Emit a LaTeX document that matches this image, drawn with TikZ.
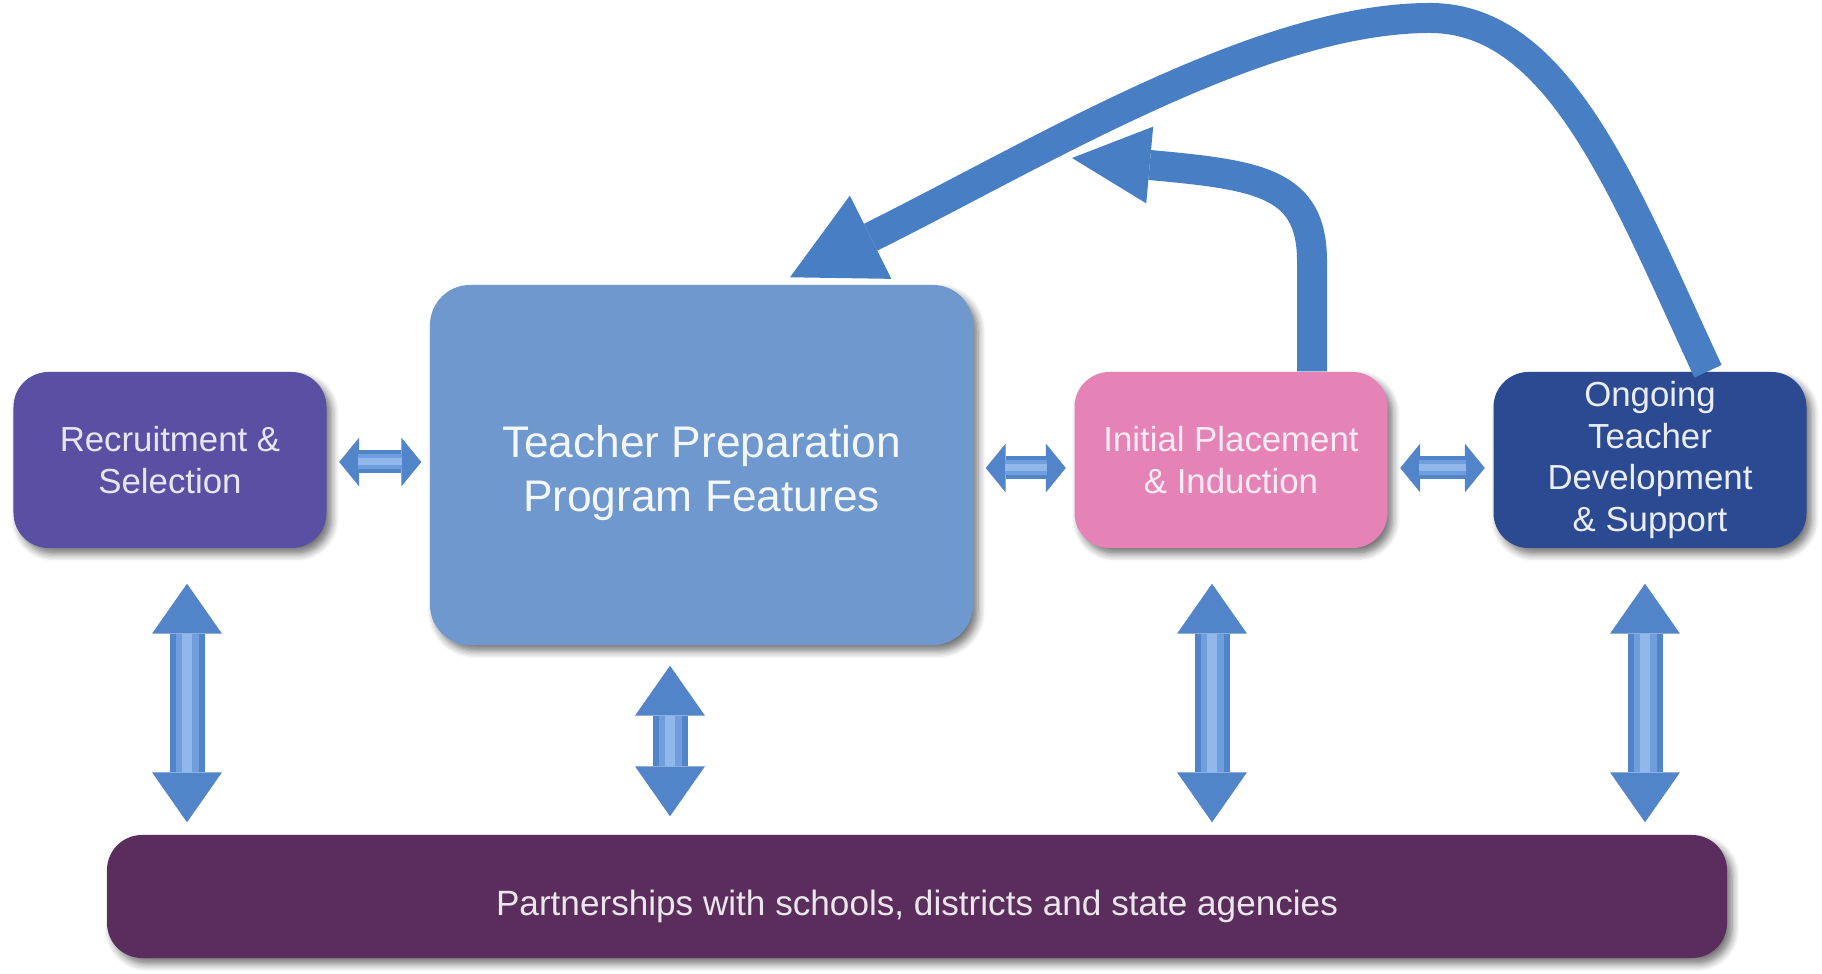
\documentclass[tikz,border=0pt]{standalone}
\usepackage{fontspec}
\setmainfont{Liberation Sans}
\usetikzlibrary{arrows.meta,calc,shadows.blur}

\definecolor{recfill}{RGB}{89,80,164}
\definecolor{prepfill}{RGB}{110,152,206}
\definecolor{initfill}{RGB}{230,131,182}
\definecolor{ongfill}{RGB}{43,74,146}
\definecolor{partfill}{RGB}{90,45,92}
\definecolor{loopblue}{RGB}{72,126,196}
\definecolor{linkblue}{RGB}{82,132,202}
\definecolor{linkmid}{RGB}{112,158,221}
\definecolor{linklight}{RGB}{145,184,234}

\begin{document}
\begin{tikzpicture}[
        box/.style={rectangle,rounded corners=0.35cm,inner sep=0pt,align=center,
            minimum width=3.13cm,minimum height=1.76cm,
            blur shadow={shadow xshift=0.05cm,shadow yshift=-0.06cm,shadow blur steps=6,shadow opacity=55}},
        small/.style={font=\fontsize{9.9}{11.9}\selectfont},
        hlink/.style={draw=linkblue,line width=0.23cm,
            {Triangle[length=0.2cm,width=0.49cm,line width=0pt]}-{Triangle[length=0.2cm,width=0.49cm,line width=0pt]},
            shorten <=0.12cm,shorten >=0.08cm,
            postaction={draw=linkmid,line width=0.15cm,-,shorten <=0.31cm,shorten >=0.27cm},
            postaction={draw=linklight,line width=0.07cm,-,shorten <=0.31cm,shorten >=0.27cm}},
        vlink/.style 2 args={draw=linkblue,line width=0.35cm,
            {Triangle[length=0.5cm,width=0.7cm,line width=0pt]}-{Triangle[length=0.5cm,width=0.7cm,line width=0pt]},
            shorten <=#1,shorten >=#2,
            postaction={draw=linkmid,line width=0.23cm,-,shorten <=#1+0.5cm,shorten >=#2+0.5cm},
            postaction={draw=linklight,line width=0.1cm,-,shorten <=#1+0.5cm,shorten >=#2+0.5cm}},
        feedback/.style={draw=loopblue,line width=0.3cm},
    ]
    \useasboundingbox (0,0) rectangle (18.22,9.73);

    % the four stages and the partnership bar
    \node[box,small,fill=recfill,text=white!85!recfill] (rec) at (1.70,5.13) {Recruitment \&\\Selection};
    \node[box,fill=prepfill,rounded corners=0.4cm,minimum width=5.43cm,minimum height=3.60cm,
        label={[text=white!92!prepfill,align=center,yshift=-0.08cm,font=\fontsize{12.6}{15.5}\selectfont]center:{Teacher Preparation\\Program Features}}]
        (prep) at (7.015,5.08) {};
    \node[box,small,fill=initfill,text=white!85!initfill] (init) at (12.31,5.13) {Initial Placement\\\& Induction};
    \node[box,small,fill=ongfill,text=white!90!ongfill] (ong) at (16.50,5.13) {Ongoing\\Teacher\\Development\\\& Support};
    \node[box,fill=partfill,minimum width=16.2cm,minimum height=1.23cm,
        label={[text=white!88!partfill,yshift=-0.1cm,font=\fontsize{10}{12}\selectfont]center:Partnerships with schools, districts and state agencies}]
        (part) at (9.17,0.765) {};

    % links between neighbours
    \draw[hlink] ($(rec.east)+(0,-0.02)$) -- ($(rec.east -| prep.west)+(0,-0.02)$);
    \draw[hlink] ($(prep.east |- init.west)+(0,-0.08)$) -- ($(init.west)+(0,-0.08)$);
    \draw[hlink] ($(init.east)+(0,-0.08)$) -- ($(ong.west)+(0,-0.08)$);

    % links down to the partnerships
    \draw[vlink={0.35cm}{0.12cm}] ($(rec.south)+(0.17,0)$) -- ($(rec.south |- part.north)+(0.17,0)$);
    \draw[vlink={0.2cm}{0.18cm}] ($(prep.south)+(-0.315,0)$) -- ($(prep.south |- part.north)+(-0.315,0)$);
    \draw[vlink={0.35cm}{0.12cm}] ($(init.south)+(-0.19,0)$) -- ($(init.south |- part.north)+(-0.19,0)$);
    \draw[vlink={0.35cm}{0.12cm}] ($(ong.south)+(-0.05,0)$) -- ($(ong.south |- part.north)+(-0.05,0)$);

    % feedback loops back to the programme
    \draw[feedback,-{Triangle[length=0.9cm,width=0.93cm,line width=0pt]}]
        ($(ong.north)+(0.58,0)$) .. controls (16.25,7.8) and (15.6,9.55) .. (14.3,9.55)
        .. controls (12.6,9.55) and (10.4,8.2) .. ($(prep.north)+(0.885,0.07)$);
    \draw[feedback,-{Triangle[length=0.78cm,width=0.77cm,line width=0pt]}]
        ($(init.north)+(0.81,0)$) -- ($(init.north)+(0.81,1.1)$)
        .. controls (13.12,7.9) and (12.6,7.98) .. (10.72,8.15);
\end{tikzpicture}
\end{document}
